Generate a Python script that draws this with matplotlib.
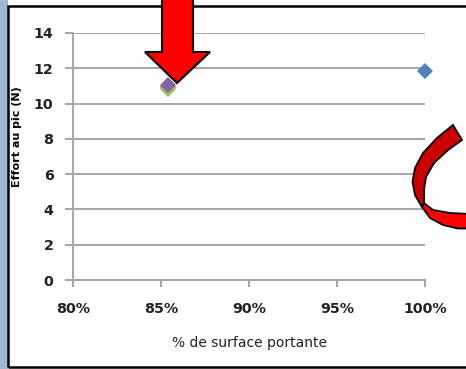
import matplotlib.pyplot as plt
from matplotlib.patches import Polygon, Rectangle
from matplotlib.ticker import PercentFormatter

# Data (fraction of bearing surface, peak force in N)
series_names = ['Serie 1', 'Serie 2', 'Serie 3', 'Serie 4']
series_colors = ['#4f81bd', '#c0504d', '#9bbb59', '#8064a2']
surface = [1.00, 0.854, 0.854, 0.854]
effort = [11.85, 10.95, 10.85, 11.05]

x_ticks = [0.80, 0.85, 0.90, 0.95, 1.00]
y_ticks = [0, 2, 4, 6, 8, 10, 12, 14]

W, H = 466, 369
fig = plt.figure(figsize=(W / 100, H / 100), dpi=100)
fig.patch.set_facecolor('white')

def px(x, y):
    # pixel coords (y down) -> figure fraction
    return (x / W, 1 - y / H)

# light blue strip on the left and black frame of the chart
fig.add_artist(Rectangle((0, 0), 8 / W, 1, transform=fig.transFigure,
                         facecolor='#a3b8d0', edgecolor='none'))
fig.add_artist(Rectangle(px(8, 367), 1.2, (367 - 6) / H, transform=fig.transFigure,
                         facecolor='none', edgecolor='black', lw=1.8))

ax = fig.add_axes([73 / W, 1 - 280 / H, (425 - 73) / W, (280 - 33) / H])
ax.set_facecolor('none')

for x, y, c in zip(surface, effort, series_colors):
    ax.plot([x], [y], linestyle='none', marker='D', markersize=8.3,
            color=c, markeredgewidth=0, clip_on=False, zorder=3)

ax.set_xlim(0.80, 1.00)
ax.set_ylim(0, 14)
ax.set_xticks(x_ticks)
ax.set_yticks(y_ticks)
ax.xaxis.set_major_formatter(PercentFormatter(1.0, decimals=0))

grid_col = '#a6a6a6'
ax.grid(axis='y', color=grid_col, lw=1.4)
ax.set_axisbelow(True)
for s in ['top', 'right']:
    ax.spines[s].set_visible(False)
for s in ['left', 'bottom']:
    ax.spines[s].set_color(grid_col)
    ax.spines[s].set_linewidth(1.4)

ax.tick_params(axis='x', direction='out', length=5, width=1.4, color=grid_col,
               pad=11, labelsize=10.3)
ax.tick_params(axis='y', direction='out', length=6, width=1.4, color=grid_col,
               pad=8, labelsize=10.3)
for lab in ax.get_xticklabels() + ax.get_yticklabels():
    lab.set_fontweight('bold')
    lab.set_color('#222222')

ax.set_xlabel('% de surface portante', fontsize=10, labelpad=14, color='#222222')
ax.set_ylabel('Effort au pic (N)', fontsize=8, fontweight='bold')
ax.yaxis.set_label_coords(22 / W, 1 - 137 / H, transform=fig.transFigure)

# red block arrow pointing at the points
arrow = [(162, -3), (193, -3), (193, 52), (210, 52), (177, 83),
         (145, 52), (162, 52)]
fig.add_artist(Polygon([px(*p) for p in arrow], closed=True, transform=fig.transFigure,
                       facecolor='#ff0000', edgecolor='black', lw=1.5, zorder=5))

# curved ribbon arrow on the right
dark = [(453, 125), (437, 138), (423, 153), (415, 168), (412.5, 182), (415, 195),
        (422, 207), (424, 203), (424, 190), (426, 177), (434, 163), (448, 150),
        (462, 140)]
bright = [(422, 207), (430, 218), (443, 225), (458, 228.5), (470, 228.5),
          (470, 214), (450, 213), (433, 210), (424, 203)]
fig.add_artist(Polygon([px(*p) for p in bright], closed=True, transform=fig.transFigure,
                       facecolor='#ff0000', edgecolor='black', lw=1.3, zorder=5))
fig.add_artist(Polygon([px(*p) for p in dark], closed=True, transform=fig.transFigure,
                       facecolor='#cc0000', edgecolor='black', lw=1.3, zorder=6))

fig.savefig('out.png', dpi=100)
